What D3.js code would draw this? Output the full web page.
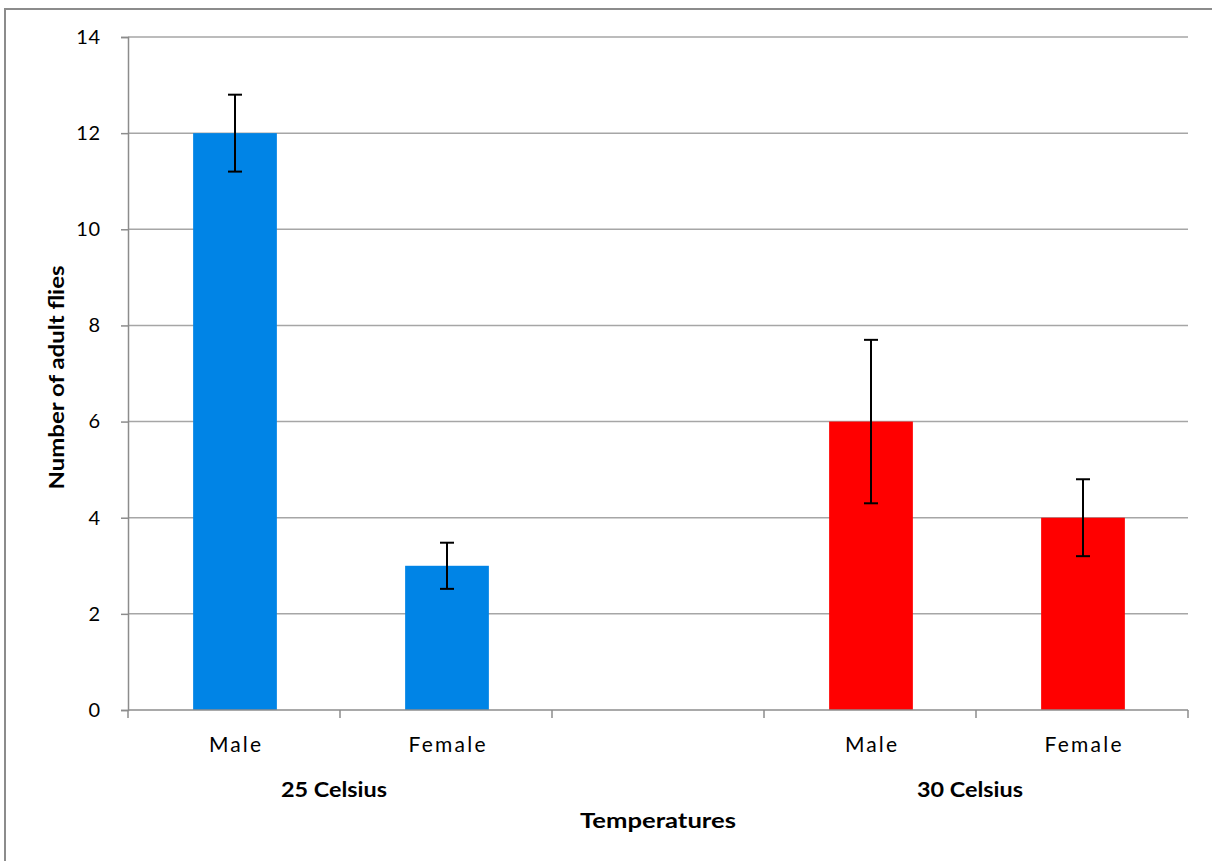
<!DOCTYPE html>
<html><head><meta charset="utf-8">
<script src="https://cdn.jsdelivr.net/npm/d3@7"></script>
<style>body{margin:0;background:#fff}svg{display:block}</style>
</head><body>
<svg id="c" width="1212" height="861"></svg>
<script>
const slots = ["s0","s1","s2","s3","s4"];
const categories = ["Male","Female","","Male","Female"];
const groupOfSlot = ["25 Celsius","25 Celsius",null,"30 Celsius","30 Celsius"];
const groups = ["25 Celsius","30 Celsius"];
const groupSlots = [["s0","s1"],["s3","s4"]];
const values = [12,3,null,6,4];
const errors = [0.8,0.48,null,1.7,0.8];
const groupColors = {"25 Celsius":"#0084E6","30 Celsius":"#FF0000"};
const yTicks = [0,2,4,6,8,10,12,14];
const yTitle = "Number of adult flies";
const xTitle = "Temperatures";

const svg = d3.select("#c");
const font = "Lato, 'Open Sans', sans-serif";
svg.append("rect").attr("x",5).attr("y",9).attr("width",1400).attr("height",1000)
  .attr("fill","#fff").attr("stroke","#8c8c8c").attr("stroke-width",2);

const L=128,R=1188,T=37,B=710;
const x = d3.scaleBand().domain(slots).range([L,R]).padding(0);
const y = d3.scaleLinear().domain([0,14]).range([B,T]);

// gridlines
svg.append("g").selectAll("line").data(yTicks.filter(d=>d>0)).join("line")
  .attr("x1",L).attr("x2",R).attr("y1",d=>y(d)).attr("y2",d=>y(d))
  .attr("stroke","#a6a6a6").attr("stroke-width",1.5);

// y axis
const ya = svg.append("g").attr("transform",`translate(${L},0)`)
  .call(d3.axisLeft(y).tickValues(yTicks).tickSize(7).tickPadding(20).tickFormat(d3.format("d")));
ya.select(".domain").attr("stroke","#8c8c8c").attr("stroke-width",1.5);
ya.selectAll(".tick line").attr("stroke","#8c8c8c").attr("stroke-width",1.5);
ya.selectAll("text").attr("font-family",font).attr("font-size",20).attr("fill","#000").attr("letter-spacing",0.8);

// bars
const bw = x.bandwidth()*0.395;
const data = slots.map((s,i)=>({s,v:values[i],e:errors[i],g:groupOfSlot[i]})).filter(d=>d.v!=null);
svg.append("g").selectAll("rect").data(data).join("rect")
  .attr("x",d=>x(d.s)+x.bandwidth()/2-bw/2+1).attr("width",bw)
  .attr("y",d=>y(d.v)).attr("height",d=>y(0)-y(d.v))
  .attr("fill",d=>groupColors[d.g]);

// x axis
const xa = svg.append("g").attr("transform",`translate(0,${B})`);
xa.append("line").attr("x1",L).attr("x2",R).attr("stroke","#8c8c8c").attr("stroke-width",1.5);
const bounds = slots.map(s=>x(s)).concat([x(slots[slots.length-1])+x.bandwidth()]);
xa.selectAll("line.t").data(bounds).join("line").attr("class","t")
  .attr("x1",d=>d).attr("x2",d=>d).attr("y1",0).attr("y2",8)
  .attr("stroke","#8c8c8c").attr("stroke-width",1.5);
const catW = {"Male":52,"Female":77};
xa.selectAll("text.cat").data(slots.map((s,i)=>({s,c:categories[i]})).filter(d=>d.c)).join("text").attr("class","cat")
  .attr("x",d=>x(d.s)+x.bandwidth()/2+1).attr("y",42).attr("text-anchor","middle")
  .attr("font-family",font).attr("font-size",21)
  .attr("textLength",d=>catW[d.c]).attr("lengthAdjust","spacing").text(d=>d.c);
xa.selectAll("text.grp").data(groups.map((g,i)=>({g,ss:groupSlots[i]}))).join("text").attr("class","grp")
  .attr("x",d=>(x(d.ss[0])+x(d.ss[d.ss.length-1])+x.bandwidth())/2-6).attr("y",87).attr("text-anchor","middle")
  .attr("font-family",font).attr("font-size",21.5).attr("font-weight","bold")
  .attr("textLength",106).attr("lengthAdjust","spacingAndGlyphs").text(d=>d.g);

// error bars
const eb = svg.append("g").attr("stroke","#000").attr("stroke-width",2);
data.forEach(d=>{
  const cx = x(d.s)+x.bandwidth()/2+1;
  eb.append("line").attr("x1",cx).attr("x2",cx).attr("y1",y(d.v+d.e)).attr("y2",y(d.v-d.e));
  [d.v+d.e,d.v-d.e].forEach(v=>eb.append("line").attr("x1",cx-7).attr("x2",cx+7).attr("y1",y(v)).attr("y2",y(v)));
});

// titles
svg.append("text").attr("x",(L+R)/2).attr("y",828).attr("text-anchor","middle")
  .attr("font-family",font).attr("font-size",21.5).attr("font-weight","bold")
  .attr("textLength",156).attr("lengthAdjust","spacingAndGlyphs").text(xTitle);
svg.append("text").attr("transform",`translate(64,${(T+B)/2+4}) rotate(-90)`).attr("text-anchor","middle")
  .attr("font-family",font).attr("font-size",21).attr("font-weight","bold")
  .attr("textLength",224).attr("lengthAdjust","spacingAndGlyphs").text(yTitle);
</script>
</body></html>
